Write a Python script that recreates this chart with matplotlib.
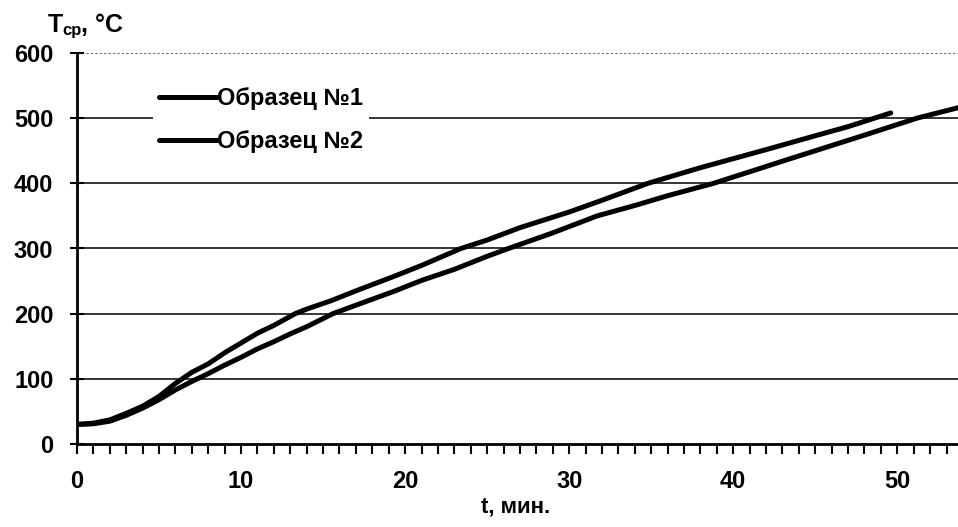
import matplotlib
matplotlib.use("Agg")
import matplotlib.pyplot as plt
from matplotlib.ticker import MultipleLocator

plt.rcParams['font.family'] = ['Liberation Sans', 'DejaVu Sans']
plt.rcParams['font.weight'] = 'bold'

# sample 1 (upper curve)
t1 = [0, 1, 2, 3, 4, 5, 6, 7, 8, 9, 10, 11, 12, 13.3, 14, 15.5, 17, 19.4, 21, 23.4, 25,
      27, 30, 32, 34.8, 38, 41.9, 45, 47, 49.6]
T1 = [30, 32, 37, 47, 58, 73, 93, 110, 123, 140, 155, 170, 182, 200, 207, 220, 235, 258, 274, 300, 313,
      332, 356, 374, 400, 424, 451, 473, 487, 508]

# sample 2 (lower curve)
t2 = [0, 1, 2, 3, 4, 5, 6, 7, 8, 9, 10, 11, 12, 13, 14, 15.6, 17, 19.4, 21, 23, 25, 26.3,
      29, 31.7, 34, 36, 38.8, 41.9, 43, 45, 48, 51.2, 53.7]
T2 = [30, 31, 35, 44, 55, 68, 83, 96, 108, 121, 133, 146, 157, 169, 180, 200, 213, 235, 251, 268, 288, 300,
      324, 350, 366, 381, 400, 425, 434, 450, 474, 500, 516]

labels = ["Образец №1", "Образец №2"]

W, H = 958, 527
fig = plt.figure(figsize=(W / 100, H / 100), dpi=100)
ax = fig.add_axes([77 / W, (H - 444) / H, 881 / W, 391 / H])

# horizontal grid
for v in range(100, 600, 100):
    ax.axhline(v, color='black', lw=1.1, zorder=1)
ax.axhline(600, color='black', lw=0.8, ls=(0, (2, 2)), alpha=0.6, zorder=1)

ax.plot(t1, T1, color='black', lw=3.6, label=labels[0], zorder=3,
        solid_capstyle='round', solid_joinstyle='round')
ax.plot(t2, T2, color='black', lw=3.6, label=labels[1], zorder=3,
        solid_capstyle='round', solid_joinstyle='round')

ax.set_xlim(0, 53.7)
ax.set_ylim(0, 600)
ax.xaxis.set_major_locator(MultipleLocator(10))
ax.xaxis.set_minor_locator(MultipleLocator(1))
ax.yaxis.set_major_locator(MultipleLocator(100))

for s in ['top', 'right']:
    ax.spines[s].set_visible(False)
for s in ['left', 'bottom']:
    ax.spines[s].set_linewidth(2)

ax.tick_params(axis='x', which='both', direction='out', length=7, width=1.5,
               labelsize=17, pad=12)
ax.tick_params(axis='y', which='major', direction='inout', length=10, width=1.5,
               labelsize=17, pad=12)
for lab in ax.get_xticklabels() + ax.get_yticklabels():
    lab.set_fontweight('bold')

leg = ax.legend(loc='upper left', bbox_to_anchor=(76 / 881, 1 - 28 / 391),
                frameon=True, framealpha=1, edgecolor='none', fancybox=False,
                fontsize=17, handlelength=2.45, handletextpad=0.0,
                labelspacing=0.85, borderpad=0.25, borderaxespad=0)
for txt in leg.get_texts():
    txt.set_fontweight('bold')

# axis titles
fig.text(48 / W, 1 - 32 / H, "T", fontsize=18, fontweight='bold', ha='left', va='baseline')
fig.text(62 / W, 1 - 35 / H, "ср", fontsize=12, fontweight='bold', ha='left', va='baseline')
fig.text(81 / W, 1 - 32 / H, ", °C", fontsize=18, fontweight='bold', ha='left', va='baseline')
fig.text(516 / W, 1 - 507 / H, "t, мин.", fontsize=16, fontweight='bold', ha='center', va='center')

fig.savefig("out.png", dpi=100)
